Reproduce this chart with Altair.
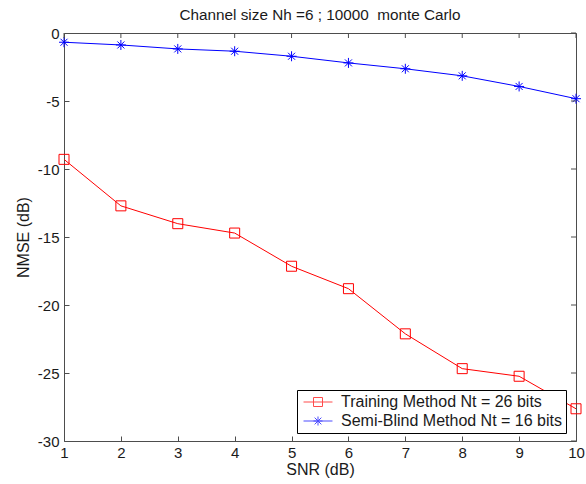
import altair as alt
import pandas as pd

# ---- data ----
snr = [1, 2, 3, 4, 5, 6, 7, 8, 9, 10]
training = [-9.29, -12.71, -14.02, -14.71, -17.15, -18.80, -22.12, -24.68, -25.24, -27.63]
semiblind = [-0.68, -0.88, -1.17, -1.34, -1.71, -2.20, -2.63, -3.15, -3.93, -4.83]
series_names = ["Training Method Nt = 26 bits", "Semi-Blind Method Nt = 16 bits"]
series_colors = ["#ff0000", "#0000ff"]
x_ticks = [1, 2, 3, 4, 5, 6, 7, 8, 9, 10]
y_ticks = [0, -5, -10, -15, -20, -25, -30]
title_text = "Channel size Nh =6 ; 10000\u00a0 monte Carlo"

df = pd.DataFrame({
    "snr": snr + snr,
    "nmse": training + semiblind,
    "series": [series_names[0]] * len(snr) + [series_names[1]] * len(snr),
})
xt = pd.DataFrame({"snr": x_ticks})
yt = pd.DataFrame({"nmse": y_ticks})

FONT = "Liberation Sans"
AXC = "#4d4d4d"
TXT = "#1a1a1a"
W, H = 512, 408

xscale = alt.Scale(domain=[1, 10], nice=False, zero=False)
yscale = alt.Scale(domain=[-30, 0], nice=False, zero=False)
cscale = alt.Scale(domain=series_names, range=series_colors)

star = "M-1,0L1,0M0,-1L0,1M-0.7,-0.7L0.7,0.7M-0.7,0.7L0.7,-0.7"
leg_train = "M-1.93,0L1.93,0M-0.6,-0.6L0.6,-0.6L0.6,0.6L-0.6,0.6Z"
leg_semi = "M-1.93,0L1.93,0M-0.6,0L0.6,0M0,-0.6L0,0.6M-0.45,-0.45L0.45,0.45M-0.45,0.45L0.45,-0.45"

num_label = "datum.value < 0 ? '-' + format(-datum.value, 'd') : format(datum.value, 'd')"

X = alt.X("snr:Q", scale=xscale, title="SNR (dB)",
          axis=alt.Axis(values=x_ticks, ticks=True, tickSize=5, offset=-5, tickColor=AXC,
                        domain=False, grid=False, labelPadding=4, labelFlush=False,
                        labelOverlap=False, titlePadding=1, labelExpr=num_label))
Y = alt.Y("nmse:Q", scale=yscale, title="NMSE (dB)",
          axis=alt.Axis(values=y_ticks, ticks=True, tickSize=5, offset=-5, tickColor=AXC,
                        domain=False, grid=False, labelPadding=5, labelFlush=False,
                        labelOverlap=False, titlePadding=6, labelExpr=num_label))

base = alt.Chart(df)
train = base.transform_filter(alt.datum.series == series_names[0])
semi = base.transform_filter(alt.datum.series == series_names[1])

line_train = train.mark_line(strokeWidth=1, color=series_colors[0]).encode(x=X, y=Y)
line_semi = semi.mark_line(strokeWidth=1, color=series_colors[1]).encode(x="snr:Q", y="nmse:Q")
pts_train = train.mark_point(shape="square", size=100, filled=False, strokeWidth=1,
                             opacity=1, color=series_colors[0]).encode(x="snr:Q", y="nmse:Q")
pts_semi = semi.mark_point(shape=star, size=100, filled=False, strokeWidth=1,
                           opacity=1, color=series_colors[1]).encode(x="snr:Q", y="nmse:Q")

leg_props = dict(
    orient="none", legendX=233, legendY=357,
    strokeColor="#000000", fillColor="#ffffff", padding=4, rowPadding=3,
    symbolSize=225, symbolOffset=9, labelOffset=15, symbolStrokeWidth=1,
    labelFont=FONT, labelFontSize=16, labelColor=TXT, labelLimit=400,
    labelExpr="datum.label + '       '",
)
legend_layer = base.transform_filter("datum.snr > 1000").mark_point(filled=False).encode(
    x="snr:Q", y="nmse:Q",
    color=alt.Color("series:N", scale=cscale, title=None, legend=alt.Legend(**leg_props)),
    shape=alt.Shape("series:N", scale=alt.Scale(domain=series_names, range=[leg_train, leg_semi]),
                    title=None, legend=alt.Legend(**leg_props)),
)

tick_top = alt.Chart(xt).mark_rule(color=AXC, strokeWidth=1).encode(
    x="snr:Q", y=alt.value(0), y2=alt.value(5))
tick_right = alt.Chart(yt).mark_rule(color=AXC, strokeWidth=1).encode(
    y="nmse:Q", x=alt.value(W), x2=alt.value(W - 5))

chart = alt.layer(
    line_train, line_semi, pts_train, pts_semi, tick_top, tick_right, legend_layer,
).properties(
    width=W, height=H,
    autosize=alt.AutoSizeParams(type="none"),
    padding={"left": 64, "top": 33, "right": 10, "bottom": 43},
    title=alt.TitleParams(title_text, font=FONT, fontSize=15.3, fontWeight="normal",
                          color=TXT, anchor="middle", offset=3),
).configure_view(
    stroke=AXC, strokeWidth=1
).configure_axis(
    labelFont=FONT, labelFontSize=15, labelColor=TXT,
    titleFont=FONT, titleFontSize=16, titleFontWeight="normal", titleColor=TXT,
)

chart.save("out.html", embed_options={"renderer": "svg", "actions": False})
